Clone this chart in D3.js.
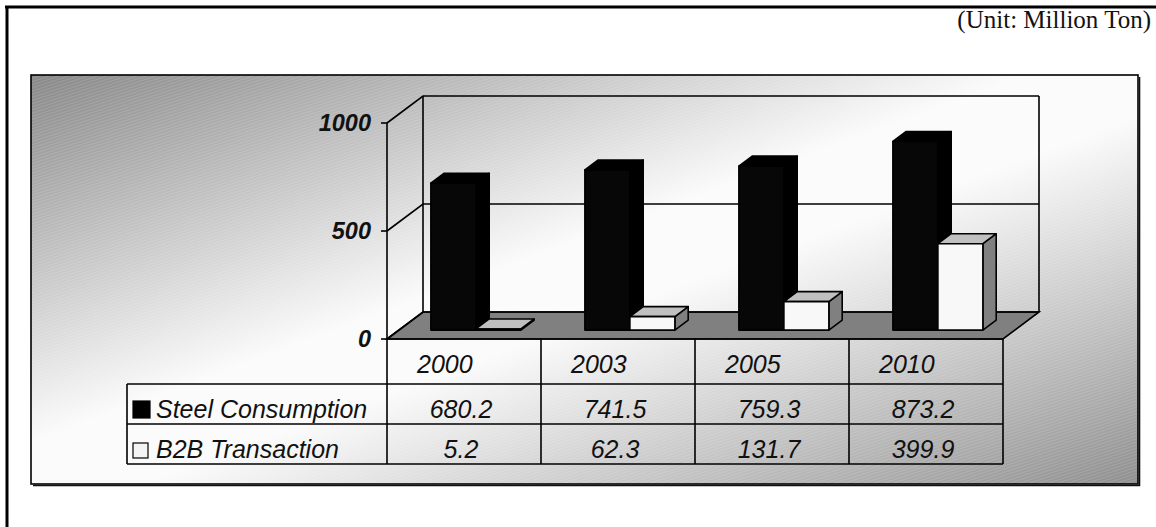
<!DOCTYPE html>
<html>
<head>
<meta charset="utf-8">
<script src="https://cdn.jsdelivr.net/npm/d3@7/dist/d3.min.js"></script>
<style>
  html, body { margin: 0; padding: 0; background: #fff; }
  svg { display: block; }
</style>
</head>
<body>
<svg id="chart" width="1156" height="527"></svg>
<script>
// Data
const years = ["2000", "2003", "2005", "2010"];
const seriesNames = ["Steel Consumption", "B2B Transaction"];
const steelConsumption = [680.2, 741.5, 759.3, 873.2];
const b2bTransaction = [5.2, 62.3, 131.7, 399.9];
const yTicks = [0, 500, 1000];
const unitLabel = "(Unit: Million Ton)";

const seriesValues = [steelConsumption, b2bTransaction];

// Face colours per series: front, top, side
const faceColors = [
  { front: "#070707", top: "#000000", side: "#000000", legend: "#000000" },
  { front: "#f8f8f8", top: "#c0c0c0", side: "#808080", legend: "#f4f4f4" }
];

const svg = d3.select("#chart");
const defs = svg.append("defs");

// Plot geometry
const plot = { left: 387, right: 1003, base: 339 };
const depth = { dx: 36, dy: -27 };
const barDepth = [0.33, 0.7];

const x0 = d3.scaleBand().domain(years).range([plot.left, plot.right]).padding(0);
const x1 = d3.scaleBand().domain(seriesNames).range([32, 122]).padding(0);
const y = d3.scaleLinear().domain([0, 1000]).range([0, 216]);

// project (front-plane x, value, depth fraction) to screen coordinates
function P(x, v, d) {
  return [x + depth.dx * d, plot.base - y(v) + depth.dy * d];
}
function poly(pts) { return "M" + pts.map(p => p.join(",")).join("L") + "Z"; }

// Background: diagonal gradient with fine hatch texture
const grad = defs.append("linearGradient").attr("id", "bg")
  .attr("x1", 0).attr("y1", 0).attr("x2", 1).attr("y2", 1);
[[0, "#888888"], [0.45, "#fbfbfb"], [0.55, "#fbfbfb"], [1, "#8f8f8f"]].forEach(s =>
  grad.append("stop").attr("offset", s[0]).attr("stop-color", s[1]));

const pat = defs.append("pattern").attr("id", "hatch")
  .attr("width", 6).attr("height", 3).attr("patternUnits", "userSpaceOnUse")
  .attr("patternTransform", "rotate(-18)");
pat.append("rect").attr("width", 6).attr("height", 1).attr("fill", "#ffffff").attr("opacity", 0.13);

// Outer frame
svg.append("line").attr("x1", 5).attr("x2", 1156).attr("y1", 7).attr("y2", 7)
  .attr("stroke", "#000").attr("stroke-width", 3);
svg.append("line").attr("x1", 7).attr("x2", 7).attr("y1", 6).attr("y2", 527)
  .attr("stroke", "#000").attr("stroke-width", 3);

// Unit label
svg.append("text").attr("x", 1151).attr("y", 28).attr("text-anchor", "end")
  .attr("font-family", "'Liberation Serif', 'Times New Roman', serif")
  .attr("font-size", 25).attr("fill", "#111").text(unitLabel);

// Chart area
const area = { x: 31, y: 75, w: 1107, h: 409 };
svg.append("rect").attr("x", area.x).attr("y", area.y).attr("width", area.w).attr("height", area.h)
  .attr("fill", "url(#bg)");
svg.append("rect").attr("x", area.x).attr("y", area.y).attr("width", area.w).attr("height", area.h)
  .attr("fill", "url(#hatch)");
svg.append("rect").attr("x", area.x).attr("y", area.y).attr("width", area.w).attr("height", area.h)
  .attr("fill", "none").attr("stroke", "#000").attr("stroke-width", 1.6);
svg.append("path")
  .attr("d", `M${area.x + area.w + 1.5},${area.y + 2}V${area.y + area.h + 1.5}H${area.x + 2}`)
  .attr("fill", "none").attr("stroke", "#111").attr("stroke-width", 1.6);

const g = svg.append("g");
const lineStyle = sel => sel.attr("stroke", "#000").attr("stroke-width", 1.6).attr("fill", "none");

// Floor
g.append("path")
  .attr("d", poly([P(plot.left, 0, 0), P(plot.left, 0, 1), P(plot.right, 0, 1), P(plot.right, 0, 0)]))
  .attr("fill", "#808080").attr("stroke", "#000").attr("stroke-width", 1.6);

// Walls and gridlines
yTicks.forEach(t => {
  g.append("path").attr("d", "M" + [P(plot.left, t, 0), P(plot.left, t, 1), P(plot.right, t, 1)].map(p => p.join(",")).join("L"))
    .call(lineStyle);
});
g.append("path").attr("d", "M" + [P(plot.left, 0, 1), P(plot.left, 1000, 1)].map(p => p.join(",")).join("L")).call(lineStyle);
g.append("path").attr("d", "M" + [P(plot.right, 0, 1), P(plot.right, 1000, 1)].map(p => p.join(",")).join("L")).call(lineStyle);

// Value axis on the front-left edge
g.append("line").attr("x1", plot.left).attr("x2", plot.left)
  .attr("y1", P(0, 1000, 0)[1]).attr("y2", 464).call(lineStyle);
yTicks.forEach(t => {
  const yy = P(0, t, 0)[1];
  g.append("line").attr("x1", plot.left - 6).attr("x2", plot.left).attr("y1", yy).attr("y2", yy).call(lineStyle);
  g.append("text").attr("x", plot.left - 16).attr("y", yy).attr("dy", "0.36em")
    .attr("text-anchor", "end")
    .attr("font-family", "'Liberation Sans', Arial, sans-serif")
    .attr("font-size", 23.5).attr("font-weight", "bold").attr("font-style", "italic")
    .attr("fill", "#111").text(t);
});

// Bars
years.forEach((yr, i) => {
  seriesNames.forEach((s, k) => {
    const v = seriesValues[k][i];
    const xa = x0(yr) + x1(s), xb = xa + x1.bandwidth();
    const [d0, d1] = barDepth;
    const c = faceColors[k];
    const bar = g.append("g");
    bar.append("path").attr("d", poly([P(xb, 0, d0), P(xb, 0, d1), P(xb, v, d1), P(xb, v, d0)]))
      .attr("fill", c.side).attr("stroke", "#000").attr("stroke-width", 1.6).attr("stroke-linejoin", "round");
    bar.append("path").attr("d", poly([P(xa, v, d0), P(xa, v, d1), P(xb, v, d1), P(xb, v, d0)]))
      .attr("fill", c.top).attr("stroke", "#000").attr("stroke-width", 1.6).attr("stroke-linejoin", "round");
    bar.append("path").attr("d", poly([P(xa, 0, d0), P(xa, v, d0), P(xb, v, d0), P(xb, 0, d0)]))
      .attr("fill", c.front).attr("stroke", "#000").attr("stroke-width", 1.6).attr("stroke-linejoin", "round");
  });
});

// Data table
const table = { left: 127, headTop: plot.base, rowTops: [384, 424], bottom: 464 };
const fontTable = "'Liberation Sans', Arial, sans-serif";
const tableSize = 25;

// header row (years)
g.append("line").attr("x1", plot.left).attr("x2", plot.right).attr("y1", table.headTop).attr("y2", table.headTop).call(lineStyle);
years.forEach(yr => {
  g.append("text").attr("x", x0(yr) + 30).attr("y", 373)
    .attr("font-family", fontTable).attr("font-size", tableSize).attr("font-style", "italic")
    .attr("fill", "#111").text(yr);
});
// row lines
[table.rowTops[0], table.rowTops[1], table.bottom].forEach(yy => {
  g.append("line").attr("x1", table.left).attr("x2", plot.right).attr("y1", yy).attr("y2", yy).call(lineStyle);
});
g.append("line").attr("x1", table.left).attr("x2", table.left).attr("y1", table.rowTops[0]).attr("y2", table.bottom).call(lineStyle);
years.forEach(yr => {
  const xe = x0(yr) + x0.bandwidth();
  g.append("line").attr("x1", xe).attr("x2", xe).attr("y1", table.headTop).attr("y2", table.bottom).call(lineStyle);
});

// rows: legend key, series name, values
const rowBase = [418, 458];
seriesNames.forEach((s, k) => {
  const sq = k === 0 ? 17 : 15;
  g.append("rect").attr("x", 133).attr("y", rowBase[k] - sq).attr("width", sq).attr("height", sq)
    .attr("fill", faceColors[k].legend).attr("stroke", "#000").attr("stroke-width", 1.2);
  g.append("text").attr("x", 156).attr("y", rowBase[k])
    .attr("font-family", fontTable).attr("font-size", tableSize).attr("font-style", "italic")
    .attr("fill", "#111").text(s);
  years.forEach((yr, i) => {
    g.append("text").attr("x", x0(yr) + x0.bandwidth() / 2 - 3).attr("y", rowBase[k])
      .attr("text-anchor", "middle")
      .attr("font-family", fontTable).attr("font-size", tableSize).attr("font-style", "italic")
      .attr("fill", "#111").text(seriesValues[k][i]);
  });
});
</script>
</body>
</html>
